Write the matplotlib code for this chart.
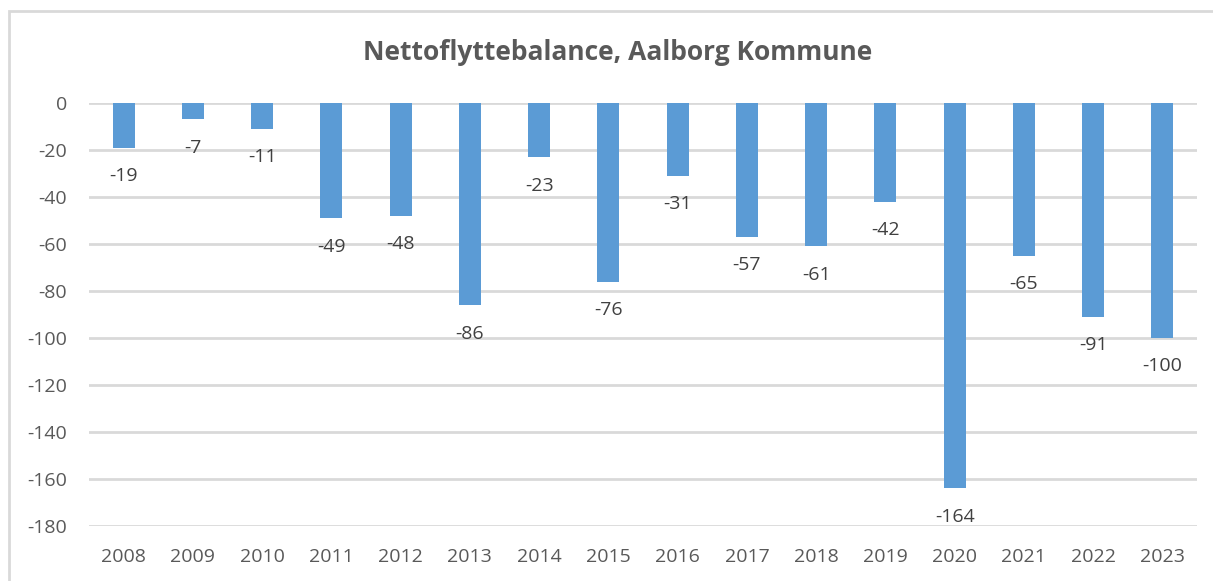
import matplotlib.pyplot as plt
from matplotlib.patches import Rectangle
import numpy as np

# Data
years = ['2008', '2009', '2010', '2011', '2012', '2013', '2014', '2015',
         '2016', '2017', '2018', '2019', '2020', '2021', '2022', '2023']
net_migration = [-19, -7, -11, -49, -48, -86, -23, -76,
                 -31, -57, -61, -42, -164, -65, -91, -100]
y_ticks = [0, -20, -40, -60, -80, -100, -120, -140, -160, -180]

bar_color = '#5B9BD5'
text_color = '#595959'
grid_color = '#D9D9D9'

plt.rcParams['font.family'] = ['Open Sans', 'DejaVu Sans']

fig = plt.figure(figsize=(12.13, 5.81), dpi=100)
ax = fig.add_axes([89 / 1213, 1 - 526 / 581, (1197 - 89) / 1213, (526 - 103) / 581])

x = np.arange(len(years))
ax.bar(x, net_migration, width=0.32, color=bar_color, zorder=3)

# Data labels below each bar
for xi, val in zip(x, net_migration):
    ax.annotate(f"{val}", (xi, val), xytext=(0, -20.5), textcoords='offset points',
                ha='center', va='center', fontsize=14, color='#404040')

ax.set_xlim(-0.5, len(years) - 0.5)
ax.set_ylim(-180, 0)
ax.set_yticks(y_ticks)
ax.set_yticklabels([str(t) for t in y_ticks])
ax.set_xticks(x)
ax.set_xticklabels(years)
ax.yaxis.grid(True, color=grid_color, linewidth=2, zorder=0)
ax.tick_params(axis='both', length=0, labelsize=14, labelcolor=text_color)
ax.tick_params(axis='y', pad=16)
ax.tick_params(axis='x', pad=16)
for spine in ax.spines.values():
    spine.set_visible(False)

fig.text(618 / 1213, 1 - 52 / 581, "Nettoflyttebalance, Aalborg Kommune",
         ha='center', va='center', fontsize=19, fontweight='bold', color=text_color)

# Chart frame (cut off at the right and bottom in the reference)
fig.patches.append(Rectangle((9 / 1213, -0.05), 1.1, 1 - 11 / 581 + 0.05,
                             transform=fig.transFigure, fill=False,
                             edgecolor='#D9D9D9', linewidth=2))

plt.savefig('out.png', dpi=100)
